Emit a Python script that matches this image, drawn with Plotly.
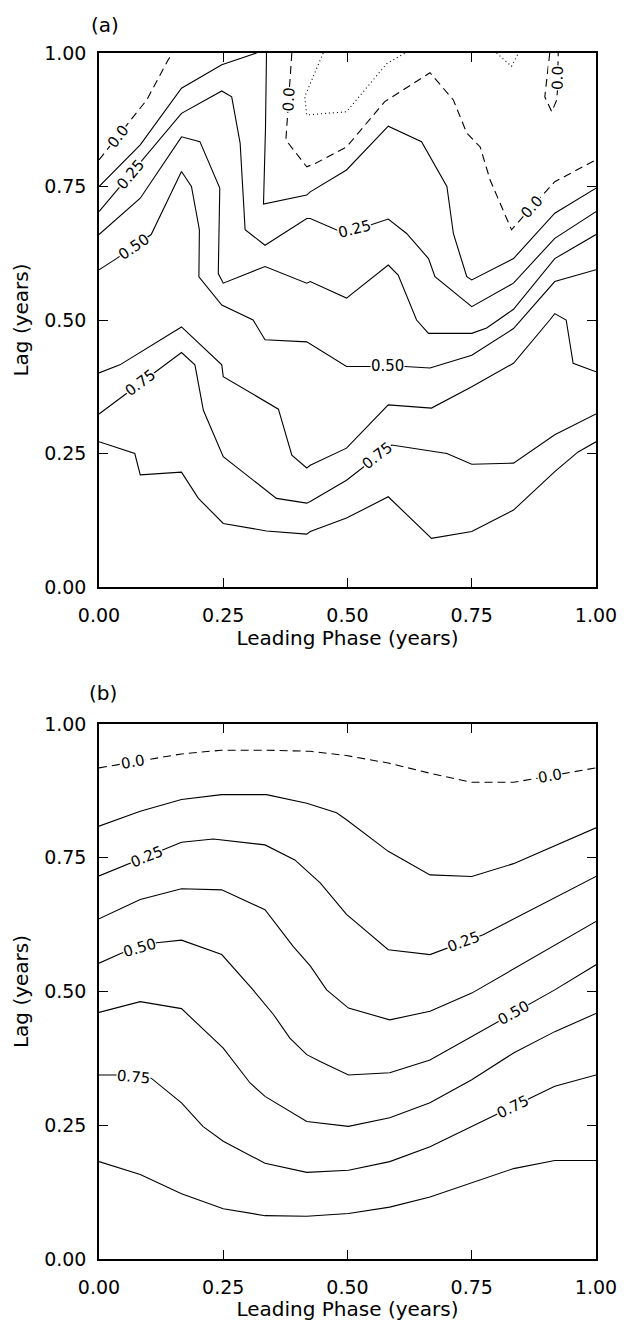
import math
import plotly.graph_objects as go

TICK_VALS = [0.0, 0.25, 0.5, 0.75, 1.0]
TICK_TEXT = ["0.00", "0.25", "0.50", "0.75", "1.00"]
X_TITLE = "Leading Phase (years)"
Y_TITLE = "Lag (years)"
PANEL_TITLES = ["(a)", "(b)"]

# ---------------- Panel (a): contour lines (None separates pieces) ----------------
a_x_m0125 = [0.451, 0.425, 0.414, 0.418, 0.498, 0.579, 0.616, None, 0.80, 0.83, 0.844]
a_y_m0125 = [1.0, 0.943, 0.918, 0.884, 0.89, 0.98, 1.0, None, 1.0, 0.975, 1.0]

a_x_000 = [0.0, 0.02, 0.055, 0.096, 0.139, 0.148, None,
           0.388, 0.384, 0.379, 0.376, 0.418, 0.435, 0.498, 0.575, 0.666, 0.713, 0.74, 0.767,
           0.787, 0.83, 0.85, 0.892, 0.917, 1.0, None,
           0.907, 0.897, 0.911, 0.921, 0.9225, 0.9235, 0.924]
a_y_000 = [0.80, 0.823, 0.864, 0.912, 0.987, 1.0, None,
           1.0, 0.95, 0.875, 0.837, 0.787, 0.793, 0.824, 0.909, 0.963, 0.912, 0.85, 0.824,
           0.762, 0.669, 0.690, 0.733, 0.759, 0.80, None,
           1.0, 0.918, 0.89, 0.912, 0.93, 0.976, 1.0]

a_x_0125 = [0.0, 0.083, 0.166, 0.247, 0.317, None,
            0.337, 0.335, 0.331, 0.418, 0.425, 0.498, 0.582, 0.649, 0.70, 0.713, 0.74, 0.75,
            0.834, 0.917, 1.0]
a_y_0125 = [0.75, 0.828, 0.934, 0.978, 1.0, None,
            1.0, 0.86, 0.717, 0.734, 0.74, 0.781, 0.863, 0.834, 0.75, 0.662, 0.581, 0.575,
            0.615, 0.70, 0.747]

a_x_0250 = [0.0, 0.03, 0.095, 0.166, 0.247, 0.267, 0.284, 0.294, 0.334, 0.418, 0.425, 0.49,
            0.54, 0.582, 0.619, 0.663, 0.676, 0.75, 0.834, 0.917, 1.0]
a_y_0250 = [0.703, 0.736, 0.808, 0.887, 0.929, 0.918, 0.831, 0.669, 0.640, 0.690, 0.690, 0.664,
            0.676, 0.689, 0.662, 0.615, 0.581, 0.525, 0.569, 0.653, 0.703]

a_x_0375 = [0.0, 0.083, 0.166, 0.203, 0.243, 0.240, 0.25, 0.334, 0.418, 0.425, 0.498, 0.582,
            0.602, 0.639, 0.663, 0.75, 0.78, 0.834, 0.917, 1.0]
a_y_0375 = [0.66, 0.728, 0.843, 0.834, 0.747, 0.587, 0.569, 0.60, 0.569, 0.572, 0.541, 0.603,
            0.584, 0.50, 0.475, 0.475, 0.485, 0.52, 0.615, 0.66]

a_x_0500 = [0.0, 0.035, 0.105, 0.166, 0.186, 0.202, 0.201, 0.247, 0.31, 0.334, 0.418, 0.445,
            0.498, 0.545, 0.615, 0.666, 0.75, 0.834, 0.917, 1.0]
a_y_0500 = [0.594, 0.615, 0.66, 0.778, 0.75, 0.669, 0.581, 0.528, 0.50, 0.463, 0.459, 0.443,
            0.413, 0.413, 0.413, 0.41, 0.434, 0.484, 0.572, 0.594]

a_x_0625 = [0.0, 0.042, 0.166, 0.247, 0.25, 0.361, 0.388, 0.418, 0.425, 0.498, 0.582, 0.669,
            0.75, 0.834, 0.907, 0.917, 0.94, 0.954, 1.0]
a_y_0625 = [0.401, 0.416, 0.487, 0.416, 0.394, 0.333, 0.247, 0.223, 0.228, 0.26, 0.341, 0.335,
            0.375, 0.419, 0.50, 0.512, 0.50, 0.419, 0.403]

a_x_0750 = [0.0, 0.05, 0.116, 0.166, 0.193, 0.21, 0.25, 0.357, 0.418, 0.425, 0.498, 0.53,
            0.589, 0.70, 0.75, 0.834, 0.917, 1.0]
a_y_0750 = [0.324, 0.3587, 0.404, 0.439, 0.416, 0.331, 0.244, 0.166, 0.157, 0.16, 0.20, 0.223,
            0.266, 0.25, 0.23, 0.232, 0.285, 0.324]

a_x_0875 = [0.0, 0.072, 0.083, 0.166, 0.20, 0.25, 0.337, 0.418, 0.425, 0.498, 0.582, 0.669,
            0.75, 0.834, 0.917, 0.964, 1.0]
a_y_0875 = [0.272, 0.25, 0.21, 0.215, 0.166, 0.119, 0.105, 0.099, 0.104, 0.129, 0.169, 0.091,
            0.104, 0.144, 0.216, 0.253, 0.272]

# labels: (level, index of first vertex of the labelled segment, text)
a_labels = [(0.0, 1, "0.0"), (0.0, 8, "0.0"), (0.0, 21, "0.0"), (0.0, 30, "0.0"),
            (0.25, 1, "0.25"), (0.25, 11, "0.25"),
            (0.5, 1, "0.50"), (0.5, 13, "0.50"),
            (0.75, 1, "0.75"), (0.75, 11, "0.75")]

# ---------------- Panel (b) ----------------
b_x_000 = [0.0, 0.04, 0.095, 0.166, 0.246, 0.337, 0.425, 0.498, 0.582, 0.666, 0.75, 0.834,
           0.875, 0.94, 1.0]
b_y_000 = [0.918, 0.924, 0.933, 0.944, 0.951, 0.951, 0.949, 0.941, 0.927, 0.908, 0.891, 0.891,
           0.8975, 0.908, 0.918]

b_x_0125 = [0.0, 0.083, 0.166, 0.247, 0.337, 0.418, 0.478, 0.498, 0.582, 0.666, 0.75, 0.834, 1.0]
b_y_0125 = [0.809, 0.837, 0.859, 0.868, 0.868, 0.852, 0.834, 0.821, 0.762, 0.718, 0.715, 0.739, 0.806]

b_x_0250 = [0.0, 0.06, 0.13, 0.166, 0.23, 0.334, 0.394, 0.445, 0.498, 0.582, 0.666, 0.70,
            0.765, 0.773, 1.0]
b_y_0250 = [0.716, 0.739, 0.765, 0.779, 0.785, 0.774, 0.746, 0.703, 0.644, 0.578, 0.569, 0.5808,
            0.6033, 0.606, 0.715]

b_x_0375 = [0.0, 0.083, 0.166, 0.247, 0.334, 0.391, 0.425, 0.458, 0.502, 0.585, 0.666, 0.75, 1.0]
b_y_0375 = [0.636, 0.672, 0.692, 0.690, 0.653, 0.584, 0.548, 0.503, 0.469, 0.447, 0.463, 0.497, 0.631]

b_x_0500 = [0.0, 0.046, 0.116, 0.166, 0.247, 0.31, 0.351, 0.384, 0.418, 0.445, 0.502, 0.585,
            0.666, 0.75, 0.80, 0.868, 0.917, 1.0]
b_y_0500 = [0.553, 0.572, 0.591, 0.596, 0.569, 0.503, 0.457, 0.413, 0.382, 0.369, 0.344, 0.348,
            0.372, 0.416, 0.442, 0.4775, 0.503, 0.55]

b_x_0625 = [0.0, 0.083, 0.166, 0.23, 0.25, 0.304, 0.334, 0.418, 0.502, 0.585, 0.666, 0.75,
            0.834, 0.917, 1.0]
b_y_0625 = [0.461, 0.481, 0.468, 0.413, 0.394, 0.329, 0.304, 0.257, 0.248, 0.264, 0.292, 0.335,
            0.385, 0.425, 0.459]

b_x_0750 = [0.0, 0.035, 0.105, 0.166, 0.209, 0.25, 0.334, 0.418, 0.502, 0.585, 0.666, 0.75,
            0.80, 0.865, 0.917, 1.0]
b_y_0750 = [0.344, 0.344, 0.338, 0.292, 0.248, 0.22, 0.179, 0.162, 0.166, 0.182, 0.21, 0.248,
            0.2705, 0.2996, 0.323, 0.344]

b_x_0875 = [0.0, 0.083, 0.166, 0.25, 0.334, 0.418, 0.502, 0.585, 0.666, 0.75, 0.834, 0.917, 1.0]
b_y_0875 = [0.182, 0.158, 0.122, 0.094, 0.081, 0.080, 0.085, 0.097, 0.116, 0.142, 0.169, 0.184, 0.184]

b_labels = [(0.0, 1, "0.0"), (0.0, 12, "0.0"),
            (0.25, 1, "0.25"), (0.25, 11, "0.25"),
            (0.5, 1, "0.50"), (0.5, 14, "0.50"),
            (0.75, 1, "0.75"), (0.75, 12, "0.75")]

# ---------------- build figure ----------------
W, H = 627, 1321
ML, MR, MT, MB = 99, 31, 53, 62
PLOT_W = W - ML - MR
PLOT_H = H - MT - MB
DOM_A = [(PLOT_H - 534) / PLOT_H, 1.0]
DOM_B = [0.0, 535 / PLOT_H]

panels = [
    ("x", "y", DOM_A, {-0.125: (a_x_m0125, a_y_m0125), 0.0: (a_x_000, a_y_000),
                       0.125: (a_x_0125, a_y_0125), 0.25: (a_x_0250, a_y_0250),
                       0.375: (a_x_0375, a_y_0375), 0.5: (a_x_0500, a_y_0500),
                       0.625: (a_x_0625, a_y_0625), 0.75: (a_x_0750, a_y_0750),
                       0.875: (a_x_0875, a_y_0875)}, a_labels),
    ("x2", "y2", DOM_B, {0.0: (b_x_000, b_y_000),
                         0.125: (b_x_0125, b_y_0125), 0.25: (b_x_0250, b_y_0250),
                         0.375: (b_x_0375, b_y_0375), 0.5: (b_x_0500, b_y_0500),
                         0.625: (b_x_0625, b_y_0625), 0.75: (b_x_0750, b_y_0750),
                         0.875: (b_x_0875, b_y_0875)}, b_labels),
]

fig = go.Figure()
annotations = []
FONT = "DejaVu Sans"

for xr, yr, dom, lines, labels in panels:
    ph = (dom[1] - dom[0]) * PLOT_H
    for lev, (xs, ys) in lines.items():
        if lev < 0:
            dash = "1px,3px"
        elif lev == 0:
            dash = "8px,5px"
        else:
            dash = "solid"
        fig.add_trace(go.Scatter(x=xs, y=ys, xaxis=xr, yaxis=yr, mode="lines",
                                 line=dict(color="black", width=1.1, dash=dash),
                                 connectgaps=False, showlegend=False, hoverinfo="skip"))
    for lev, i, txt in labels:
        xs, ys = lines[lev]
        x1, y1, x2, y2 = xs[i], ys[i], xs[i + 1], ys[i + 1]
        ang = -math.degrees(math.atan2((y2 - y1) * ph, (x2 - x1) * PLOT_W))
        if ang > 90:
            ang -= 180
        elif ang <= -90:
            ang += 180
        annotations.append(dict(x=(x1 + x2) / 2, y=(y1 + y2) / 2, xref=xr, yref=yr,
                                text=txt, textangle=ang, showarrow=False,
                                bgcolor="white", borderpad=0,
                                font=dict(family=FONT, size=15, color="black"),
                                xanchor="center", yanchor="middle"))

for k, (xr, yr) in enumerate([("x", "y"), ("x2", "y2")]):
    annotations.append(dict(x=0.012 if k == 0 else 0.008, y=1.052 if k == 0 else 1.058,
                            xref=f"{xr} domain", yref=f"{yr} domain",
                            text=PANEL_TITLES[k], showarrow=False,
                            font=dict(family=FONT, size=20, color="black"),
                            xanchor="center", yanchor="middle"))

axis_common = dict(range=[0, 1], tickmode="array", tickvals=TICK_VALS, ticktext=TICK_TEXT,
                   ticks="inside", ticklen=9, tickwidth=1.3, tickcolor="black",
                   showline=True, linewidth=1.5, linecolor="black", mirror="ticks",
                   showgrid=False, zeroline=False, automargin=False,
                   tickfont=dict(family=FONT, size=19, color="black"))

fig.update_layout(
    width=W, height=H, margin=dict(l=ML, r=MR, t=MT, b=MB, autoexpand=False),
    paper_bgcolor="white", plot_bgcolor="white",
    xaxis=dict(domain=[0, 1], anchor="y", ticklabelstandoff=10,
               title=dict(text=X_TITLE, font=dict(family=FONT, size=20, color="black"), standoff=6),
               **axis_common),
    yaxis=dict(domain=DOM_A, anchor="x", ticklabelstandoff=7,
               title=dict(text=Y_TITLE, font=dict(family=FONT, size=20, color="black"), standoff=10),
               **axis_common),
    xaxis2=dict(domain=[0, 1], anchor="y2", ticklabelstandoff=10,
                title=dict(text=X_TITLE, font=dict(family=FONT, size=20, color="black"), standoff=6),
                **axis_common),
    yaxis2=dict(domain=DOM_B, anchor="x2", ticklabelstandoff=7,
                title=dict(text=Y_TITLE, font=dict(family=FONT, size=20, color="black"), standoff=10),
                **axis_common),
    annotations=annotations,
)

fig.write_html("out.html")
